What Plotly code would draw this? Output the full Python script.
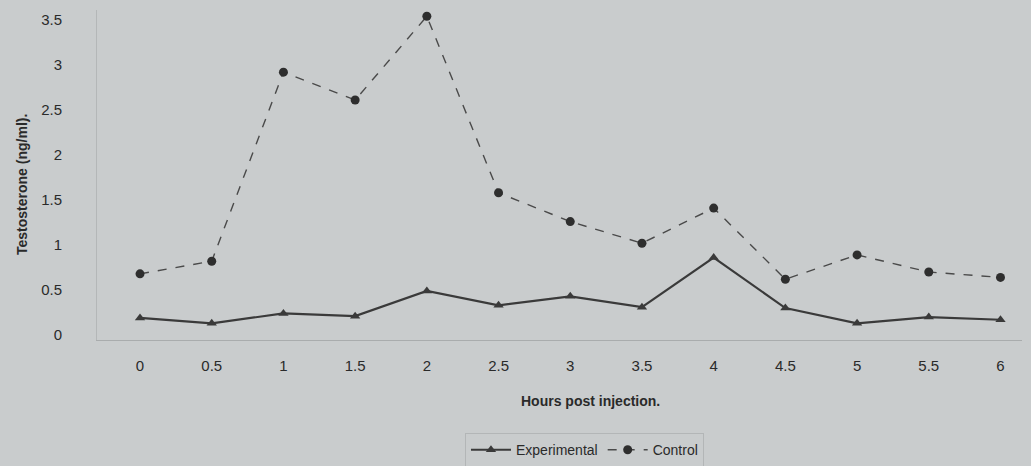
import plotly.graph_objects as go

hours = [0, 0.5, 1, 1.5, 2, 2.5, 3, 3.5, 4, 4.5, 5, 5.5, 6]
hour_labels = ["0", "0.5", "1", "1.5", "2", "2.5", "3", "3.5", "4", "4.5", "5", "5.5", "6"]
experimental = [0.19, 0.13, 0.24, 0.21, 0.49, 0.33, 0.43, 0.31, 0.86, 0.30, 0.13, 0.20, 0.17]
control = [0.68, 0.82, 2.92, 2.61, 3.54, 1.58, 1.26, 1.02, 1.41, 0.62, 0.89, 0.70, 0.64]
y_ticks = [0, 0.5, 1, 1.5, 2, 2.5, 3, 3.5]
y_labels = ["0", "0.5", "1", "1.5", "2", "2.5", "3", "3.5"]

bg = "#c9cccd"
ink = "#2a2a2a"
font = "Liberation Sans"

fig = go.Figure()
fig.add_trace(go.Scatter(
    x=hours, y=experimental, name="Experimental", mode="lines+markers",
    line=dict(color="#3a3a3a", width=2.2),
    marker=dict(symbol="triangle-up", size=9, color="#3a3a3a"),
))
fig.add_trace(go.Scatter(
    x=hours, y=control, name="Control", mode="lines+markers",
    line=dict(color="#4a4a4a", width=1.4, dash="dash"),
    marker=dict(symbol="circle", size=9, color="#2e2e2e"),
))

fig.update_layout(
    width=1031, height=466,
    margin=dict(l=97, r=9, t=10, b=126),
    paper_bgcolor=bg, plot_bgcolor=bg,
    font=dict(family=font, size=14, color=ink),
    showlegend=True,
    legend=dict(orientation="h", x=0.527, y=0.034, yref="container",
                xanchor="center", yanchor="middle",
                bgcolor="rgba(0,0,0,0)", bordercolor="#b3b6b7", borderwidth=1,
                font=dict(family=font, size=14, color=ink), itemwidth=40),
    xaxis=dict(range=[-0.3, 6.15], tickvals=hours, ticktext=hour_labels,
               showgrid=False, zeroline=False, showline=True, linecolor="#a9acad",
               linewidth=1, ticks="", ticklabelstandoff=12,
               tickfont=dict(family=font, size=15, color=ink)),
    yaxis=dict(range=[-0.055, 3.61], tickvals=y_ticks, ticktext=y_labels,
               showgrid=False, zeroline=False, showline=True, linecolor="#b4b7b8",
               linewidth=1, ticks="", ticklabelstandoff=31,
               tickfont=dict(family=font, size=15, color=ink)),
    annotations=[
        dict(text="<b>Hours post injection.</b>", xref="paper", yref="paper",
             x=0.533, y=-0.185, xanchor="center", yanchor="middle", showarrow=False,
             font=dict(family=font, size=14, color=ink)),
        dict(text="<b>Testosterone (ng/ml).</b>", xref="paper", yref="paper",
             x=-0.081, y=0.47, xanchor="center", yanchor="middle", showarrow=False,
             textangle=-90, font=dict(family=font, size=14, color=ink)),
    ],
)

fig.write_html("out.html", config={"displayModeBar": False},
               post_script="document.body.style.margin='0px';document.body.style.overflow='hidden';")
